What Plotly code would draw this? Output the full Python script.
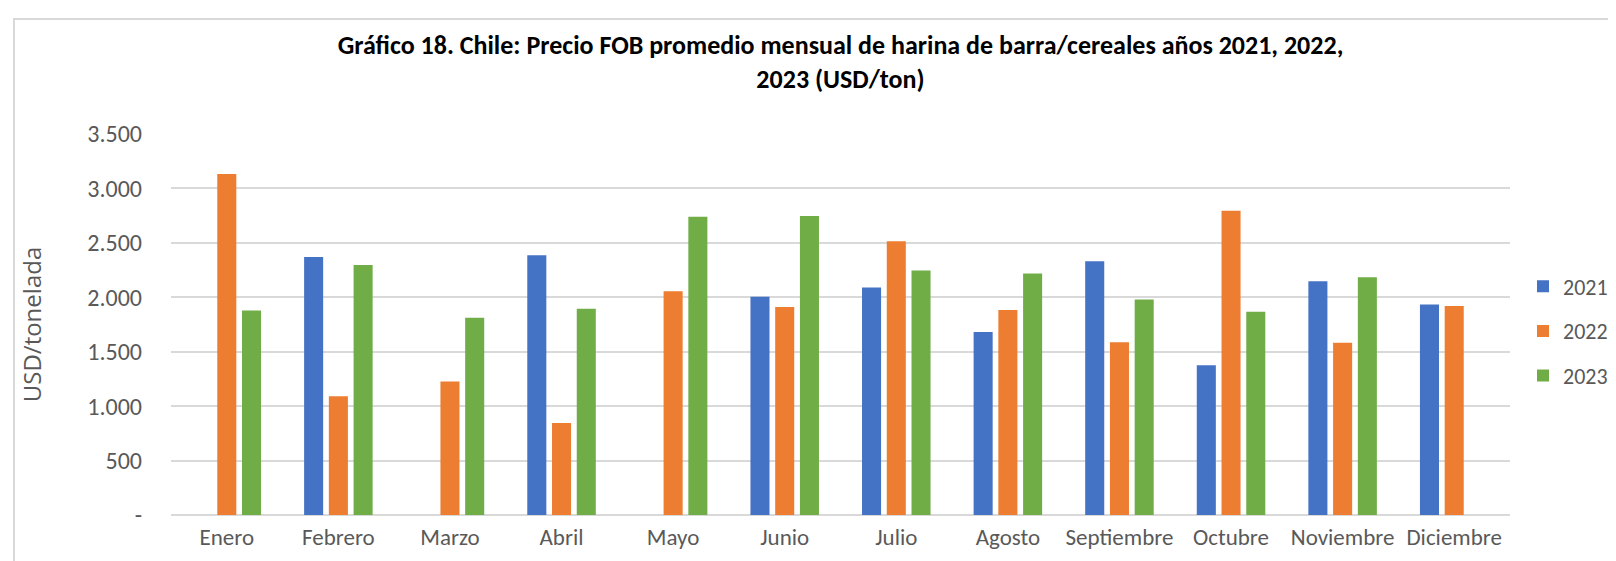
import plotly.graph_objects as go

months = ["Enero", "Febrero", "Marzo", "Abril", "Mayo", "Junio", "Julio",
          "Agosto", "Septiembre", "Octubre", "Noviembre", "Diciembre"]
v2021 = [None, 2369, None, 2386, None, 2006, 2091, 1681, 2330, 1376, 2147, 1934]
v2022 = [3133, 1091, 1226, 845, 2055, 1911, 2514, 1884, 1586, 2795, 1583, 1920]
v2023 = [1878, 2297, 1812, 1894, 2740, 2746, 2245, 2219, 1979, 1868, 2183, None]
years = ["2021", "2022", "2023"]
colors = ["#4472C4", "#ED7D31", "#70AD47"]
ytick_vals = [0, 500, 1000, 1500, 2000, 2500, 3000, 3500]
ytick_text = ["-", "500", "1.000", "1.500", "2.000", "2.500", "3.000", "3.500"]

FONT = "Carlito, Calibri, 'Liberation Sans Narrow', 'Liberation Sans', sans-serif"

fig = go.Figure()
for name, vals, col in zip(years, [v2021, v2022, v2023], colors):
    fig.add_trace(go.Bar(x=months, y=vals, name=name, marker_color=col,
                         marker_line_width=0, legendgroup=name))

W, H = 1616, 561
L, R, T, B = 163, 114, 126, 54
pw, ph = W - L - R, H - T - B

fig.update_layout(
    width=W, height=H,
    margin=dict(l=L, r=R, t=T, b=B, autoexpand=False),
    paper_bgcolor="white", plot_bgcolor="white",
    barmode="group", bargap=0.335, bargroupgap=0.23,
    font=dict(family=FONT, color="#595959", size=23),
    title=dict(
        text="<b>Gráfico 18. Chile: Precio FOB promedio mensual de harina de barra/cereales años 2021, 2022,<br>2023 (USD/ton)</b>",
        x=0.5, xanchor="center", xref="paper", y=1 - 46 / H, yanchor="top",
        font=dict(family=FONT, size=26, color="black"),
    ),
    legend=dict(
        x=(1515 - L) / pw, xanchor="left", y=(H - B - 323) / ph, yanchor="middle",
        font=dict(family=FONT, size=22, color="#595959"),
        tracegroupgap=13, itemwidth=30,
    ),
    xaxis=dict(showgrid=False, showline=False, ticks="", tickfont=dict(size=23),
               ticklabelstandoff=6),
    yaxis=dict(range=[0, 3500], tickvals=ytick_vals, ticktext=ytick_text,
               showgrid=True, gridcolor="#d9d9d9", gridwidth=1.5,
               zeroline=True, zerolinecolor="#d9d9d9", zerolinewidth=1.5,
               showline=False, ticks="", tickfont=dict(size=24), ticklabelstandoff=28,
               title=dict(text="USD/tonelada", standoff=38,
                          font=dict(family="'Open Sans', 'DejaVu Sans', sans-serif", size=24, color="#595959"))),
    shapes=[dict(type="rect", xref="paper", yref="paper",
                 x0=(6 - L) / pw, x1=(W + 10 - L) / pw,
                 y0=-(H + 10 - (H - B)) / ph, y1=(H - B - 11) / ph,
                 line=dict(color="#d9d9d9", width=2), layer="below")],
)

fig.write_html("out.html")
